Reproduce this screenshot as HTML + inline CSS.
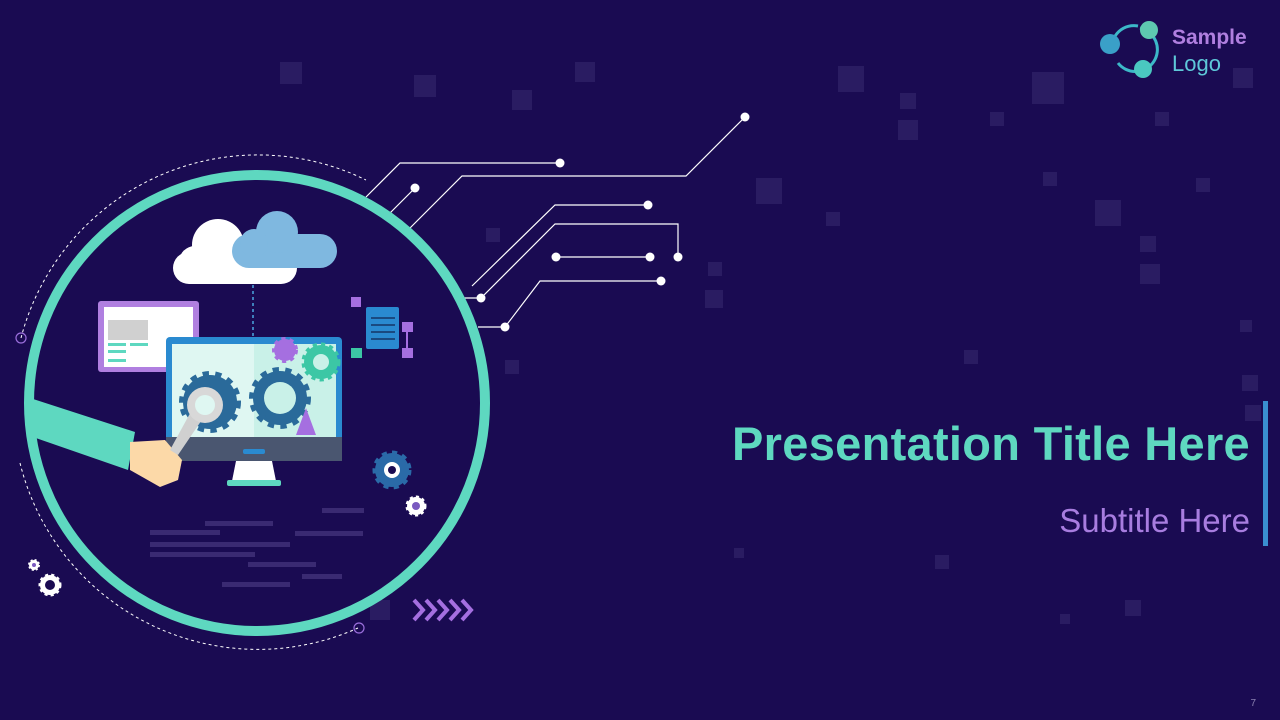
<!DOCTYPE html>
<html><head><meta charset="utf-8"><style>
html,body{margin:0;padding:0;}
body{width:1280px;height:720px;background:#1a0b52;position:relative;overflow:hidden;font-family:"Liberation Sans",sans-serif;}
.t{position:absolute;right:30px;white-space:nowrap;}
</style></head><body>
<svg width="1280" height="720" style="position:absolute;left:0;top:0">
<g fill="#2a1c62">
<rect x="280" y="62" width="22" height="22"/><rect x="512" y="90" width="20" height="20"/><rect x="575" y="62" width="20" height="20"/><rect x="414" y="75" width="22" height="22"/><rect x="838" y="66" width="26" height="26"/><rect x="1032" y="72" width="32" height="32"/><rect x="898" y="120" width="20" height="20"/><rect x="900" y="93" width="16" height="16"/><rect x="756" y="178" width="26" height="26"/><rect x="1095" y="200" width="26" height="26"/><rect x="1140" y="264" width="20" height="20"/><rect x="1155" y="112" width="14" height="14"/><rect x="1233" y="68" width="20" height="20"/><rect x="1043" y="172" width="14" height="14"/><rect x="705" y="290" width="18" height="18"/><rect x="708" y="262" width="14" height="14"/><rect x="826" y="212" width="14" height="14"/><rect x="486" y="228" width="14" height="14"/><rect x="1140" y="236" width="16" height="16"/><rect x="1242" y="375" width="16" height="16"/><rect x="1245" y="405" width="16" height="16"/><rect x="964" y="350" width="14" height="14"/><rect x="935" y="555" width="14" height="14"/><rect x="370" y="600" width="20" height="20"/><rect x="1125" y="600" width="16" height="16"/><rect x="505" y="360" width="14" height="14"/><rect x="990" y="112" width="14" height="14"/><rect x="1196" y="178" width="14" height="14"/><rect x="1240" y="320" width="12" height="12"/><rect x="1060" y="614" width="10" height="10"/><rect x="734" y="548" width="10" height="10"/>
</g>
<g stroke="#ffffff" stroke-width="1.2" fill="none">
<polyline points="366,197 400,163 560,163"/>
<polyline points="390,213 415,188"/>
<polyline points="410,228 462,176 686,176 745,117"/>
<polyline points="472,286 555,205 648,205"/>
<polyline points="460,298 481,298 555,224 678,224 678,257"/>
<polyline points="556,257 650,257"/>
<polyline points="478,327 505,327 540,281 661,281"/>
</g>
<g fill="#fff">
<circle cx="560" cy="163" r="4.5"/><circle cx="415" cy="188" r="4.5"/><circle cx="745" cy="117" r="4.5"/><circle cx="648" cy="205" r="4.5"/><circle cx="481" cy="298" r="4.5"/><circle cx="678" cy="257" r="4.5"/><circle cx="556" cy="257" r="4.5"/><circle cx="650" cy="257" r="4.5"/><circle cx="505" cy="327" r="4.5"/><circle cx="661" cy="281" r="4.5"/>
</g>
<path d="M21,338 A245,245 0 0 1 366,180" stroke="#fff" stroke-width="1" stroke-dasharray="3,3" fill="none"/>
<path d="M20,463 A245,245 0 0 0 358,628" stroke="#fff" stroke-width="1" stroke-dasharray="3,3" fill="none"/>
<circle cx="21" cy="338" r="5" stroke="#9b6fdc" fill="none" stroke-width="1.2"/>
<circle cx="359" cy="628" r="5" stroke="#9b6fdc" fill="none" stroke-width="1.2"/>
<circle cx="257" cy="403" r="228" fill="none" stroke="#5ed8c0" stroke-width="10"/>
<g fill="#3a2a72">
<rect x="150" y="530" width="70" height="5"/><rect x="150" y="542" width="140" height="5"/><rect x="150" y="552" width="105" height="5"/><rect x="205" y="521" width="68" height="5"/><rect x="295" y="531" width="68" height="5"/><rect x="322" y="508" width="42" height="5"/><rect x="248" y="562" width="68" height="5"/><rect x="302" y="574" width="40" height="5"/><rect x="222" y="582" width="68" height="5"/>
</g>
<g fill="#fff"><rect x="173" y="252" width="124" height="32" rx="16"/><circle cx="218" cy="245" r="26"/><circle cx="195" cy="262" r="16"/></g>
<g fill="#7fb8e0"><rect x="232" y="234" width="105" height="34" rx="17"/><circle cx="277" cy="232" r="21"/><circle cx="254" cy="243" r="14"/></g>
<line x1="253" y1="285" x2="253" y2="336" stroke="#4aa8e0" stroke-width="1.5" stroke-dasharray="3,3"/>
<rect x="98" y="301" width="101" height="71" rx="3" fill="#b07fe0"/>
<rect x="104" y="307" width="89" height="60" fill="#fff"/><rect x="108" y="320" width="40" height="20" fill="#d0d0d0"/>
<rect x="108" y="343" width="18" height="3" fill="#5ed8c0"/><rect x="130" y="343" width="18" height="3" fill="#5ed8c0"/><rect x="108" y="350" width="18" height="3" fill="#5ed8c0"/><rect x="108" y="359" width="18" height="3" fill="#5ed8c0"/>
<rect x="166" y="337" width="176" height="106" rx="4" fill="#2a8ad0"/>
<rect x="172" y="344" width="164" height="94" fill="#dff7f2"/><rect x="254" y="344" width="82" height="94" fill="#c9f1e8"/>
<rect x="166" y="437" width="176" height="24" fill="#4a5670"/>
<rect x="243" y="449" width="22" height="5" rx="2" fill="#2a8ad0"/>
<polygon points="236,461 272,461 276,481 232,481" fill="#fff"/>
<rect x="227" y="480" width="54" height="6" rx="2" fill="#5ed8c0"/>
<circle cx="210" cy="402" r="27" fill="#2a6a9a" stroke="#2a6a9a" stroke-width="8" stroke-dasharray="6,6"/>
<circle cx="210" cy="402" r="11" fill="#dff7f2"/>
<circle cx="280" cy="398" r="27" fill="#2a6a9a" stroke="#2a6a9a" stroke-width="8" stroke-dasharray="6,6"/>
<circle cx="280" cy="398" r="16" fill="#c9f1e8"/>
<circle cx="285" cy="350" r="11" fill="#a56fe0" stroke="#a56fe0" stroke-width="4" stroke-dasharray="4,4"/>
<circle cx="321" cy="362" r="17" fill="#3cc7a5" stroke="#3cc7a5" stroke-width="5" stroke-dasharray="4,4"/>
<circle cx="321" cy="362" r="8" fill="#c9f1e8"/>
<polygon points="306,408 296,435 316,435" fill="#a56fe0"/>
<rect x="351" y="297" width="10" height="10" fill="#a56fe0"/><rect x="402" y="322" width="11" height="10" fill="#a56fe0"/><rect x="402" y="348" width="11" height="10" fill="#a56fe0"/><rect x="351" y="348" width="11" height="10" fill="#3cc7a5"/>
<line x1="407" y1="332" x2="407" y2="348" stroke="#a56fe0" stroke-width="2"/>
<rect x="366" y="307" width="33" height="42" rx="2" fill="#2a8ad0"/>
<g stroke="#1a4a80" stroke-width="2"><line x1="371" y1="318" x2="395" y2="318"/><line x1="371" y1="325" x2="395" y2="325"/><line x1="371" y1="332" x2="395" y2="332"/><line x1="371" y1="339" x2="395" y2="339"/></g>
<polygon points="30,398 135,432 128,470 30,436" fill="#5ed8c0"/>
<path d="M130,442 L165,440 L182,460 L178,480 L160,487 L130,470 Z" fill="#fcd9a8"/>
<polygon points="200,395 214,402 178,455 170,450" fill="#d0d0d0"/>
<circle cx="205" cy="405" r="18" fill="#d8d8d8"/><circle cx="205" cy="405" r="10" fill="#dff7f2"/>
<circle cx="392" cy="470" r="17" fill="#2a6aa8" stroke="#2a6aa8" stroke-width="5" stroke-dasharray="5,5"/>
<circle cx="392" cy="470" r="8" fill="#fff"/><circle cx="392" cy="470" r="4" fill="#1a0b52"/>
<circle cx="416" cy="506" r="9" fill="#fff" stroke="#fff" stroke-width="3" stroke-dasharray="3,3"/><circle cx="416" cy="506" r="4" fill="#7a5ac0"/>
<circle cx="34" cy="565" r="5" fill="#fff" stroke="#fff" stroke-width="2" stroke-dasharray="2,2"/><circle cx="34" cy="565" r="2" fill="#7a5ac0"/>
<circle cx="50" cy="585" r="10" fill="#fff" stroke="#fff" stroke-width="3" stroke-dasharray="3,3"/><circle cx="50" cy="585" r="5" fill="#1a0b52"/>
<g fill="none" stroke="#a56fe0" stroke-width="4"><polyline points="414,600 423,610 414,620"/><polyline points="426,600 435,610 426,620"/><polyline points="438,600 447,610 438,620"/><polyline points="450,600 459,610 450,620"/><polyline points="462,600 471,610 462,620"/></g>
<path d="M1140,28 A22,22 0 1 1 1118,63" fill="none" stroke="#3cb8c8" stroke-width="3"/>
<path d="M1112,50 A22,22 0 0 1 1138,26" fill="none" stroke="#3cb8c8" stroke-width="3"/>
<circle cx="1110" cy="44" r="10" fill="#3aa0c8"/><circle cx="1149" cy="30" r="9" fill="#5ec8b0"/><circle cx="1143" cy="69" r="9" fill="#4ac8c0"/>
<rect x="1263" y="401" width="5" height="145" fill="#3a8fd0"/>
</svg>
<div class="t" style="left:1172px;top:26px;font-weight:bold;font-size:21px;color:#b07fe0;right:auto">Sample</div>
<div class="t" style="left:1172px;top:51px;font-size:22px;color:#5ec8d8;right:auto">Logo</div>
<div class="t" style="top:416px;font-size:47px;font-weight:bold;color:#5ed8c0;letter-spacing:0.3px">Presentation Title Here</div>
<div class="t" style="top:502px;font-size:33px;color:#a87de0;">Subtitle Here</div>
<div class="t" style="top:698px;font-size:10px;color:#8a80b0;right:24px">7</div>
</body></html>
